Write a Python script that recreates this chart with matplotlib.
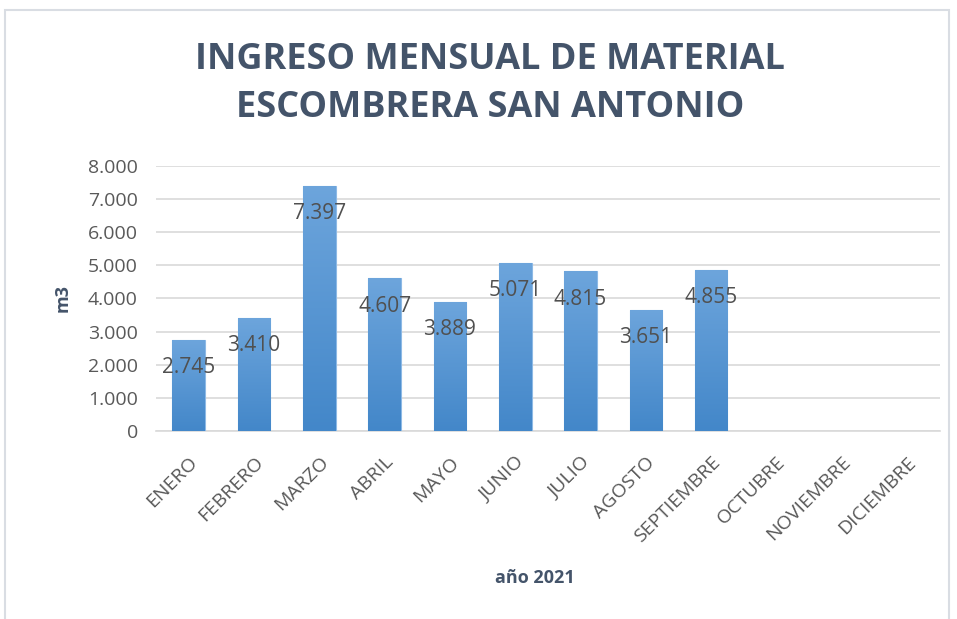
import matplotlib

matplotlib.use('Agg')
import matplotlib.pyplot as plt
import numpy as np
from matplotlib.patches import Rectangle

plt.rcParams['font.family'] = ['Open Sans', 'DejaVu Sans']

# Data
meses = ['ENERO', 'FEBRERO', 'MARZO', 'ABRIL', 'MAYO', 'JUNIO', 'JULIO',
         'AGOSTO', 'SEPTIEMBRE', 'OCTUBRE', 'NOVIEMBRE', 'DICIEMBRE']
valores = [2745, 3410, 7397, 4607, 3889, 5071, 4815, 3651, 4855]
yticks = [0, 1000, 2000, 3000, 4000, 5000, 6000, 7000, 8000]
ytick_labels = ['0', '1.000', '2.000', '3.000', '4.000', '5.000', '6.000', '7.000', '8.000']

titulo = 'INGRESO MENSUAL DE MATERIAL\nESCOMBRERA SAN ANTONIO'
text_col = '#44546A'
tick_col = '#595959'

fig = plt.figure(figsize=(9.57, 6.19), dpi=100)

# chart frame
fig.patches.append(Rectangle((5 / 957, -0.02), 944 / 957, (619 - 10) / 619 + 0.02,
                             transform=fig.transFigure, fill=False,
                             edgecolor='#D9DDE3', linewidth=1.5))

ax = fig.add_axes([0.163, 0.3037, 0.819, 0.4285])

x = np.arange(len(meses))
bars = ax.bar(x[:len(valores)], valores, width=0.5, color='#5B9BD5',
              edgecolor='#8DB9E5', linewidth=0.8, zorder=3)

# vertical gradient on each bar
grad = np.linspace(0, 1, 256).reshape(-1, 1)
cmap = matplotlib.colors.LinearSegmentedColormap.from_list('g', ['#4387C9', '#6DA5DC'])
for b in bars:
    x0, y0 = b.get_x(), b.get_y()
    w, h = b.get_width(), b.get_height()
    im = ax.imshow(grad, extent=[x0, x0 + w, y0, y0 + h], origin='lower',
                   aspect='auto', cmap=cmap, zorder=3.5)
    im.set_clip_path(b)

for xi, v in zip(x, valores):
    ax.annotate(f'{v / 1000:.3f}', (xi, v), xytext=(0, -20), textcoords='offset points',
                ha='center', va='center', fontsize=15, color='#505050', zorder=5)

ax.set_xlim(-0.5, len(meses) - 0.5)
ax.set_ylim(0, 8000)
ax.set_yticks(yticks)
ax.set_yticklabels(ytick_labels, fontsize=14, color=tick_col)
ax.set_xticks(x)
ax.set_xticklabels(meses, rotation=45, ha='right', rotation_mode='anchor',
                   fontsize=14, color=tick_col)
ax.tick_params(axis='both', length=0)
ax.tick_params(axis='x', pad=16)
ax.tick_params(axis='y', pad=13)

ax.grid(axis='y', color='#D9D9D9', linewidth=1.2, zorder=0)
for s in ['top', 'right', 'left']:
    ax.spines[s].set_visible(False)
ax.spines['bottom'].set_color('#D9D9D9')
ax.spines['bottom'].set_linewidth(1.2)

ax.set_ylabel('m3', fontsize=13, fontweight='bold', color=text_col, labelpad=12)
fig.text(535 / 957, 1 - 578 / 619, 'año 2021', ha='center', va='center',
         fontsize=13, fontweight='bold', color=text_col)

fig.text(490 / 957, 1 - 84 / 619, titulo, ha='center', va='center',
         fontsize=26, fontweight='bold', color=text_col, linespacing=1.45)

fig.savefig('out.png', dpi=100)
